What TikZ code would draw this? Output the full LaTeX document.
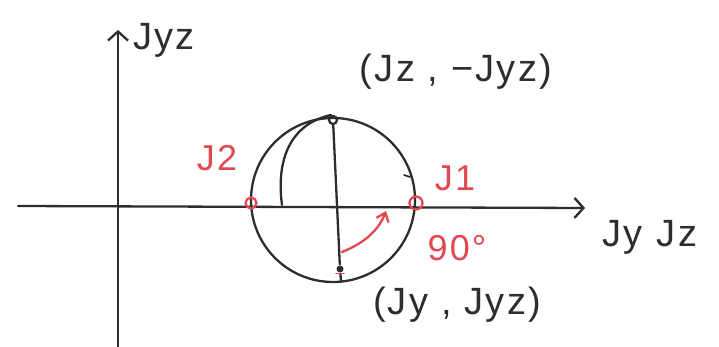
\documentclass[tikz,border=0pt]{standalone}
\usepackage{fontspec}
\setmainfont{Liberation Sans}
\newfontfamily\hand[LetterSpace=6]{Liberation Sans}
\usetikzlibrary{arrows.meta}
\definecolor{ink}{RGB}{45,45,45}
\definecolor{pen}{RGB}{226,72,82}
\begin{document}
\begin{tikzpicture}[x=1pt,y=-1pt, line width=2.3pt, line cap=round, line join=round,
  ax/.style={draw=ink, -{Straight Barb[length=9pt,width=20pt,line width=2.3pt]}},
  lbl/.style={text=ink, font=\hand\fontsize{38}{40}\selectfont, inner sep=0pt},
  rlbl/.style={text=pen, font=\hand\fontsize{36}{38}\selectfont, inner sep=0pt},
  pt/.style={circle, draw=ink, inner sep=0pt, minimum size=8pt},
  rpt/.style={circle, draw=pen, inner sep=0pt, minimum size=11pt}]
\useasboundingbox (0,0) rectangle (719,347);
% axes
\coordinate (hx0) at (18,206);
\coordinate (hx1) at (585,208);
\coordinate (vy0) at (118,347);
\coordinate (vy1) at (118,30);
\draw[ax] (hx0) -- (hx1);
\draw[ax] (vy0) -- (vy1);
% Mohr circle
\node[circle, draw=ink, minimum size=164pt, inner sep=0pt] (C) at (333,200) {};
\node[pt] (T) at (333,120) {};
\node[circle, fill=ink, inner sep=0pt, minimum size=7pt] (B) at (340,269) {};
\coordinate (Bend) at (341,281);
\node[rpt] (L) at (251,203) {};
\node[rpt, minimum width=13pt, minimum height=10pt] (R) at (416,203) {};
\draw[ink] (T) -- (B) -- (Bend);
\draw[pen, line width=1.6pt] ([xshift=-4pt]B.south) -- ([xshift=4pt]B.south);
% inner arc
\coordinate (a0) at (331,115);
\coordinate (a1) at (282,205);
\draw[ink] (a0) .. controls (290,124) and (276,160) .. (a1);
% small tick
\coordinate (k0) at (404,175);
\coordinate (k1) at (410,177);
\draw[ink, line width=1.6pt] (k0) -- (k1);
% red rotation arrow
\coordinate (r0) at (342,252);
\coordinate (r1) at (386,211);
\draw[pen, -{Straight Barb[length=8pt,width=13pt]}] (r0) .. controls (362,244) and (378,232) .. (r1);
% labels
\node[lbl] (lyz) at (164,40) {Jyz};
\node[lbl] (top) at (456,72) {(Jz , −Jyz)};
\node[lbl] (bot) at (457,305) {(Jy , Jyz)};
\node[lbl] (ax) at (650,237) {Jy\hspace{14pt}Jz};
\node[rlbl] (l2) at (217,158) {J2};
\node[rlbl] (l1) at (455,178) {J1};
\node[rlbl] (ang) at (457,248) {90°};
\end{tikzpicture}
\end{document}
